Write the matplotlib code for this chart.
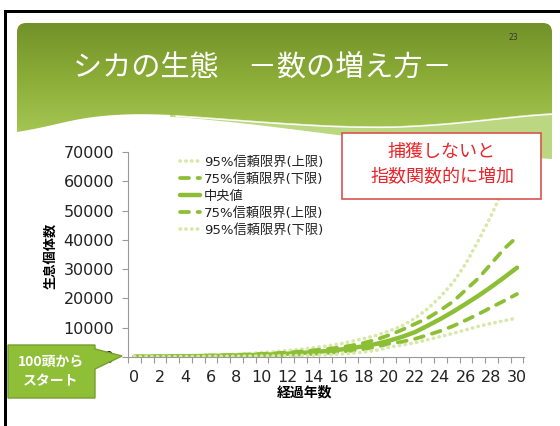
import numpy as np
import matplotlib
matplotlib.use("Agg")
import matplotlib.pyplot as plt
from matplotlib.path import Path
from matplotlib.patches import PathPatch, Polygon, Rectangle
from matplotlib.colors import LinearSegmentedColormap

plt.rcParams['font.family'] = ['DejaVu Sans', 'Noto Sans CJK JP']

# ---------------- data ----------------
years = list(range(0, 31))
median = [100, 130, 165, 200, 250, 300, 360, 430, 520, 620, 750, 900, 1100, 1350, 1650,
          2000, 2450, 3000, 3700, 4500, 5600, 6900, 8500, 10700, 13000, 15500, 18200,
          21000, 24000, 27200, 30500]
ci75_upper = [100, 145, 195, 250, 320, 400, 490, 600, 730, 880, 1060, 1270, 1530, 1850,
              2250, 2700, 3200, 3900, 4800, 6000, 7500, 9300, 11300, 13300, 16000, 19000,
              23000, 27000, 32000, 37000, 41000]
ci75_lower = [100, 115, 140, 165, 195, 230, 270, 315, 370, 430, 500, 590, 700, 850, 1050,
              1350, 1700, 2150, 2700, 3500, 4600, 5200, 6200, 7500, 8900, 10600, 12600,
              14700, 17000, 19200, 21500]
ci95_upper = [100, 160, 230, 310, 400, 500, 620, 760, 920, 1150, 1500, 1800, 2200, 2600,
              3100, 3700, 4400, 5300, 6300, 7400, 8900, 10700, 13200, 16500, 20600, 25500,
              32000, 40000, 48500, 58000, 68000]
ci95_lower = [100, 105, 115, 130, 150, 170, 195, 220, 250, 290, 330, 380, 440, 520, 620,
              760, 950, 1250, 1700, 2300, 3400, 4100, 4900, 5900, 7000, 8100, 9300, 10500,
              11500, 12400, 13300]
legend_labels = ['95%信頼限界(上限)', '75%信頼限界(下限)', '中央値',
                 '75%信頼限界(上限)', '95%信頼限界(下限)']
y_ticks = list(range(0, 70001, 10000))
x_ticklabels = list(range(0, 31, 2))

title = 'シカの生態　－数の増え方－'
page_no = '23'
note_lines = ['捕獲しないと', '指数関数的に増加']
callout_lines = ['100頭から', 'スタート']
xlabel = '経過年数'
ylabel = '生息個体数'

W, H = 560, 426
fig = plt.figure(figsize=(W / 100, H / 100), dpi=100)
fig.patch.set_facecolor('white')

# ---------------- background slide ----------------
bg = fig.add_axes([0, 0, 1, 1])
bg.set_xlim(0, W)
bg.set_ylim(H, 0)
bg.axis('off')

# black frame
bg.add_patch(Rectangle((4, 10), W, 3, color='black', lw=0))
bg.add_patch(Rectangle((4, 10), 3, H, color='black', lw=0))


def smooth_curve(px, py, n=300):
    xs = np.linspace(px[0], px[-1], n)
    ys = np.interp(xs, px, py)
    k = 25
    pad = np.pad(ys, k, mode='edge')
    ys = np.convolve(pad, np.ones(2 * k + 1) / (2 * k + 1), mode='same')[k:-k]
    return xs, ys


b1x, b1y = smooth_curve([17, 50, 90, 130, 180, 240, 300, 360, 420, 480, 552],
                        [136, 124, 116, 113, 115, 120, 124, 127, 126, 120, 112])
left, right, top, r = 17, 552, 23, 9
verts = [(left, b1y[0]), (left, top + r), (left, top), (left + r, top),
         (right - r, top), (right, top), (right, top + r), (right, b1y[-1])]
codes = [Path.MOVETO, Path.LINETO, Path.CURVE3, Path.CURVE3,
         Path.LINETO, Path.CURVE3, Path.CURVE3, Path.LINETO]
for x, y in zip(b1x[::-1], b1y[::-1]):
    verts.append((x, y))
    codes.append(Path.LINETO)
verts.append((left, b1y[0]))
codes.append(Path.CLOSEPOLY)
hdr_path = Path(verts, codes)

grad = np.linspace(0, 1, 256)[:, None]
cmap = LinearSegmentedColormap.from_list('g', ['#72912a', '#8dae38', '#a9c957'])
im = bg.imshow(grad, cmap=cmap, extent=[left, right, 140, top], aspect='auto', zorder=1)
patch = PathPatch(hdr_path, facecolor='none', edgecolor='none')
bg.add_patch(patch)
im.set_clip_path(patch)

# lighter band under the wave on the right
b2x, b2y = smooth_curve([170, 250, 330, 400, 470, 552],
                        [116, 124, 134, 143, 150, 160])
b1_on = np.interp(b2x, b1x, b1y)
band = np.vstack([np.column_stack([b2x, b1_on]), np.column_stack([b2x[::-1], b2y[::-1]])])
bg.add_patch(Polygon(band, closed=True, facecolor='#bcd781', edgecolor='none', zorder=1))
m = b1x > 175
bg.plot(b1x[m], b1y[m] + 1, color='white', lw=1, zorder=2)

bg.text(262, 68, title, color='white', fontsize=21, ha='center', va='center',
        family=['Noto Sans CJK JP'], zorder=3)
bg.text(513, 37, page_no, color='#333333', fontsize=5.5, ha='center', va='center', zorder=3)

# ---------------- chart ----------------
x0_px, xr_px, ytop_px, ybot_px = 128, 524, 152, 357
ax = fig.add_axes([x0_px / W, 1 - ybot_px / H, (xr_px - x0_px) / W, (ybot_px - ytop_px) / H])
ax.patch.set_alpha(0)
px_per_year = 12.8
ax.set_xlim(-(133 - x0_px) / px_per_year, (xr_px - 133) / px_per_year)
ax.set_ylim(0, 70000)

green = '#8cbf35'
pale = '#d7e8a8'
l95u, = ax.plot(years, ci95_upper, color=pale, lw=2.6, dashes=(0.1, 1.5),
                dash_capstyle='round', solid_capstyle='round')
l75l, = ax.plot(years, ci75_lower, color=green, lw=2.7, dashes=(2.4, 2.3),
                dash_capstyle='round')
lmed, = ax.plot(years, median, color=green, lw=3.2, solid_capstyle='round')
l75u, = ax.plot(years, ci75_upper, color=green, lw=2.7, dashes=(2.4, 2.3),
                dash_capstyle='round')
l95l, = ax.plot(years, ci95_lower, color=pale, lw=2.6, dashes=(0.1, 1.5),
                dash_capstyle='round')

for s in ('top', 'right'):
    ax.spines[s].set_visible(False)
for s in ('left', 'bottom'):
    ax.spines[s].set_color('#9a9a9a')
    ax.spines[s].set_linewidth(0.8)

ax.set_yticks(y_ticks)
ax.set_yticklabels([str(v) for v in y_ticks])
ax.set_xticks(x_ticklabels)
ax.set_xticklabels([str(v) for v in x_ticklabels])
ax.set_xticks(np.arange(-0.5, 31, 1), minor=True)
ax.tick_params(axis='x', which='major', length=0, pad=9, labelsize=11.5, labelcolor='#222222')
ax.tick_params(axis='x', which='minor', length=4, color='#9a9a9a', width=0.8)
ax.tick_params(axis='y', length=4, color='#9a9a9a', width=0.8, pad=6, labelsize=11.5,
               labelcolor='#222222')

leg = fig.legend([l95u, l75l, lmed, l75u, l95l], legend_labels,
                 loc='upper left', bbox_to_anchor=(180 / W, 1 - 156 / H),
                 frameon=False, fontsize=9.5, handlelength=1.5, handletextpad=0.3,
                 labelspacing=0.3, borderpad=0, borderaxespad=0)
for t in leg.get_texts():
    t.set_color('#222222')

fig.text(305 / W, 1 - 393 / H, xlabel, fontsize=10, fontweight='bold', ha='center',
         va='center', family=['Noto Sans CJK JP'])
fig.text(50 / W, 1 - 256 / H, ylabel, fontsize=9.5, fontweight='bold', ha='center',
         va='center', rotation=90, family=['Noto Sans CJK JP'])

# ---------------- overlays ----------------
ov = fig.add_axes([0, 0, 1, 1])
ov.set_xlim(0, W)
ov.set_ylim(H, 0)
ov.axis('off')
ov.patch.set_alpha(0)

ov.add_patch(Rectangle((342, 133), 199, 66, facecolor='white', edgecolor='#d9534f', lw=1.2))
ov.text(442, 152, note_lines[0], color='#e8262b', fontsize=13, ha='center', va='center',
        family=['Noto Sans CJK JP'])
ov.text(442, 177, note_lines[1], color='#e8262b', fontsize=13, ha='center', va='center',
        family=['Noto Sans CJK JP'])

callout = [(8, 345), (95, 345), (95, 349), (122, 356), (95, 369), (95, 398), (8, 398)]
ov.add_patch(Polygon(callout, closed=True, facecolor='#8fbf37', edgecolor='#769f2c', lw=1))
ov.text(51, 362, callout_lines[0], color='white', fontsize=10, fontweight='bold',
        ha='center', va='center', family=['Noto Sans CJK JP'])
ov.text(51, 381, callout_lines[1], color='white', fontsize=10, fontweight='bold',
        ha='center', va='center', family=['Noto Sans CJK JP'])

fig.savefig('out.png', dpi=100)
